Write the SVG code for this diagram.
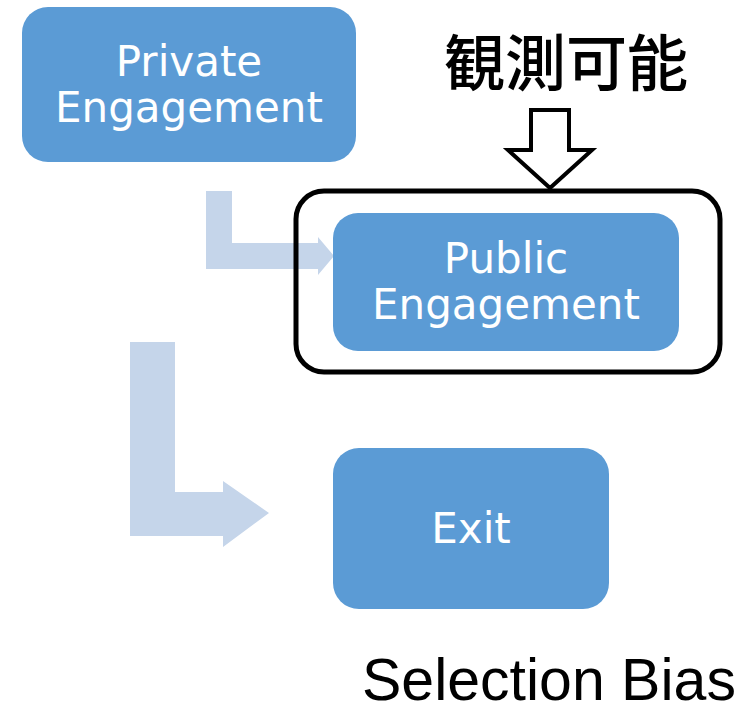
<svg xmlns="http://www.w3.org/2000/svg" width="754" height="706" viewBox="0 0 754 706">
  <style>
    .node { fill: #5B9BD5; }
    .label { fill: #FFFFFF; font-family: "DejaVu Sans", Verdana, sans-serif; font-size: 42px; text-anchor: middle; }
    .flow { fill: #C5D5EA; }
    .frame { fill: none; stroke: #000000; stroke-width: 5; }
    .pointer { fill: #FFFFFF; stroke: #000000; stroke-width: 4; stroke-linejoin: miter; }
  </style>
  <rect width="754" height="706" fill="#FFFFFF"/>

  <!-- flow arrows between stages -->
  <g id="connectors">
    <path class="flow" d="M206,191 H232 V243 H318 V237 L334,256 L318,275 V269 H206 Z"/>
    <path class="flow" d="M130,342 H175 V492 H223 V481 L269,513 L223,547 V536 H130 Z"/>
  </g>

  <g id="private-engagement">
    <rect class="node" x="22" y="7" width="334" height="155" rx="26"/>
    <text class="label" x="189" y="76">Private</text>
    <text class="label" x="189" y="122">Engagement</text>
  </g>

  <g id="observable">
    <rect class="frame" x="296" y="191" width="424" height="181" rx="28"/>
    <path class="pointer" d="M531,110 H569 V150 H592 L550,188 L508,150 H531 Z"/>
    <text x="566" y="86" font-family="'Noto Sans CJK JP', sans-serif" font-size="61" font-weight="500" text-anchor="middle" fill="#000000">観測可能</text>
  </g>

  <g id="public-engagement">
    <rect class="node" x="333" y="213" width="346" height="138" rx="25"/>
    <text class="label" x="506" y="273">Public</text>
    <text class="label" x="506" y="319">Engagement</text>
  </g>

  <g id="exit">
    <rect class="node" x="333" y="448" width="276" height="161" rx="26"/>
    <text class="label" x="471" y="543">Exit</text>
  </g>

  <text id="selection-bias" x="362" y="700" font-family="'Liberation Sans', Arial, sans-serif" font-size="59" fill="#000000">Selection Bias</text>
</svg>
